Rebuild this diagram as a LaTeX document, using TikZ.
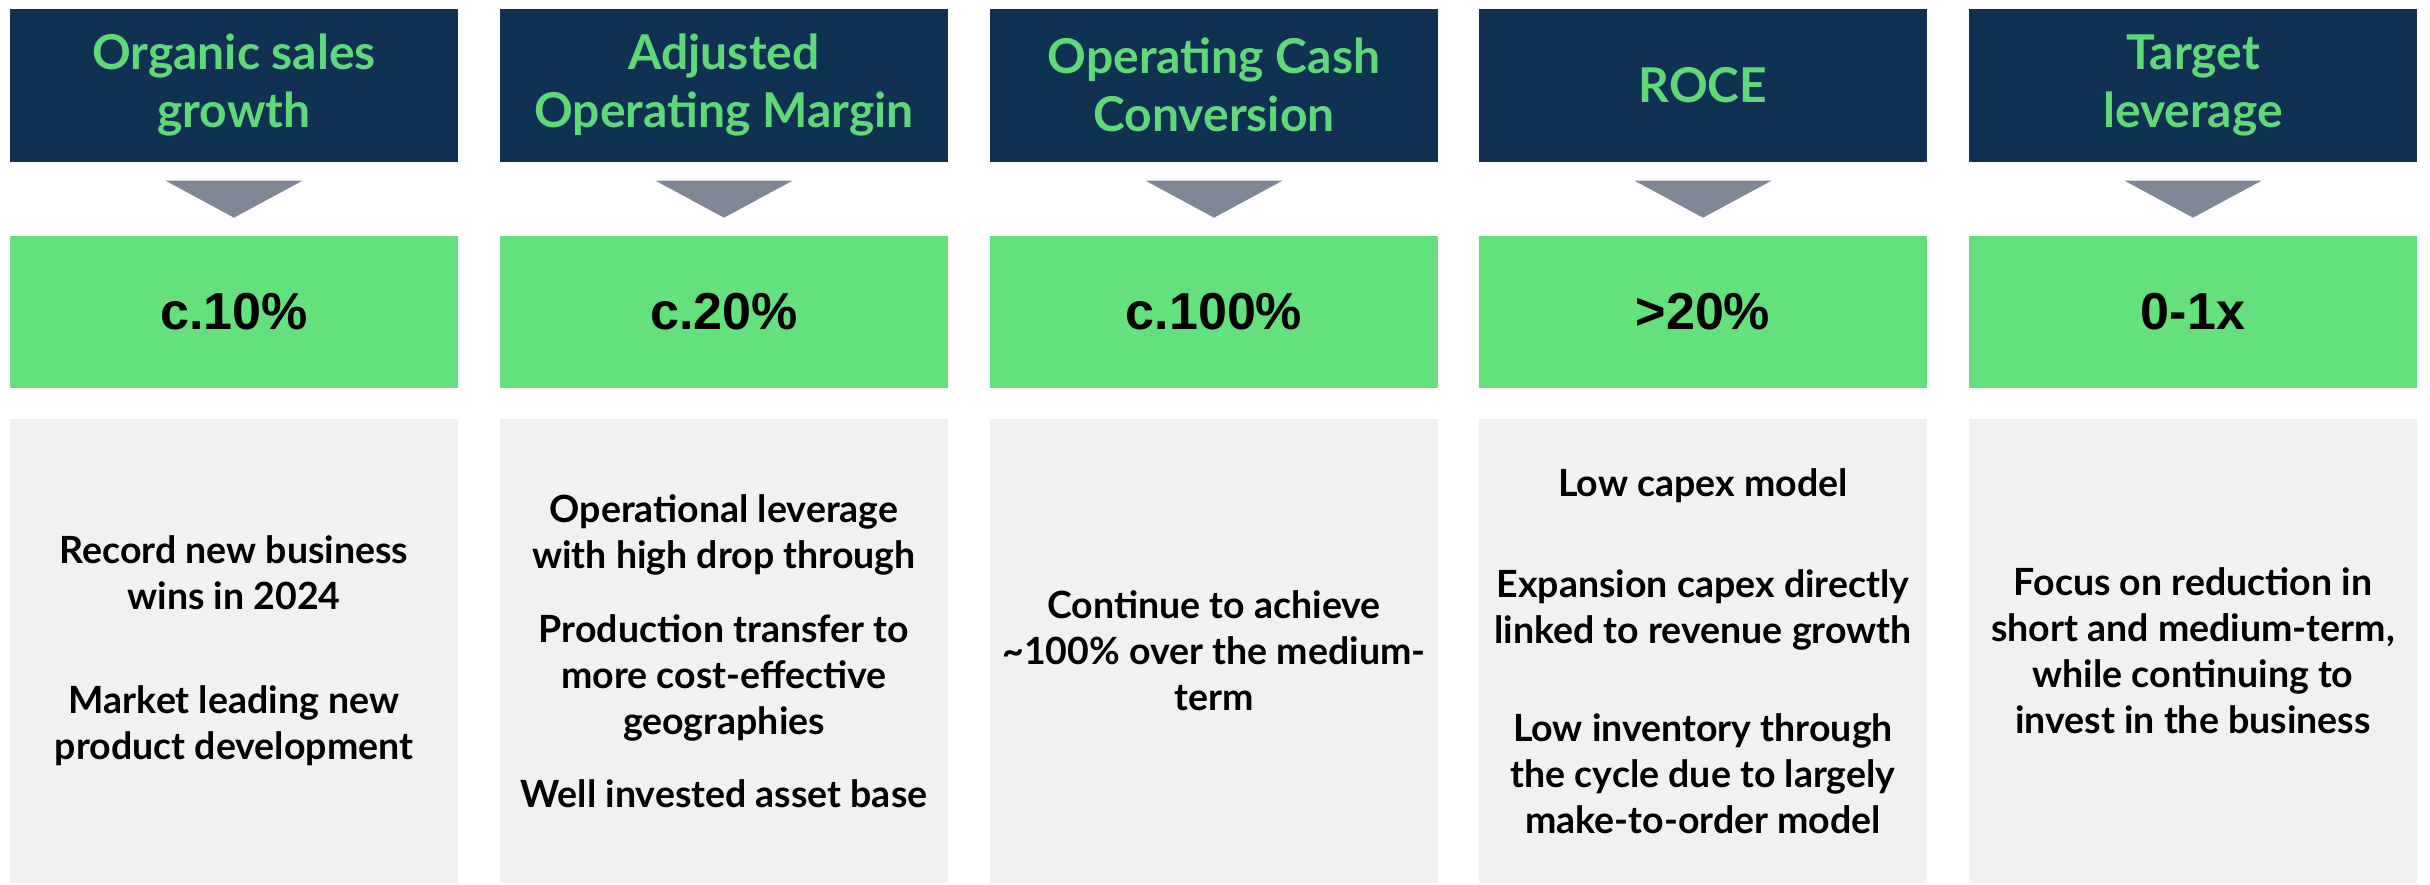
\documentclass[tikz,border=0pt]{standalone}
\usepackage{fontspec}
\usetikzlibrary{calc}
\newfontfamily\headfont{Lato}
\newfontfamily\numfont{Liberation Sans}
\definecolor{navy}{RGB}{16,49,82}
\definecolor{kpigreen}{RGB}{100,224,124}
\definecolor{titlegreen}{RGB}{96,216,122}
\definecolor{arrowgray}{RGB}{128,136,152}
\definecolor{panelgray}{RGB}{241,241,241}
\tikzset{
  headbox/.style={rectangle, fill=navy, minimum width=448pt, minimum height=153pt, inner sep=0pt,
    text=titlegreen, align=center, font=\headfont\bfseries\fontsize{48}{58}\selectfont},
  kpibox/.style={rectangle, fill=kpigreen, minimum width=448pt, minimum height=152pt, inner sep=0pt,
    text=black, font=\numfont\bfseries\fontsize{52}{60}\selectfont},
  panel/.style={rectangle, fill=panelgray, minimum width=448pt, minimum height=464pt, inner sep=0pt,
    text=black, align=center, font=\headfont\bfseries\fontsize{37.5}{46}\selectfont},
  pointer/.style={fill=arrowgray}
}
\begin{document}
\begin{tikzpicture}[x=1pt, y=-1pt]
\useasboundingbox (0,0) rectangle (2430,884);

% column headers
\node[headbox] (h1) at (234,85)  {Organic sales\\growth};
\node[headbox] (h2) at (724,85)  {Adjusted\\Operating Margin};
\node[headbox] (h3) at (1214,85) {Operating Cash\\Conversion};
\node[headbox] (h4) at (1703,85) {ROCE};
\node[headbox] (h5) at (2193,85) {Target\\leverage};

% target values
\node[kpibox] (v1) at (234,312)  {c.10\%};
\node[kpibox] (v2) at (724,312)  {c.20\%};
\node[kpibox] (v3) at (1214,312) {c.100\%};
\node[kpibox] (v4) at (1703,312) {>20\%};
\node[kpibox] (v5) at (2193,312) {0-1x};

% down pointers between header and value
\foreach \i in {1,...,5}{
  \fill[pointer] ($(h\i.south)+(-68.5,19)$) -- ($(h\i.south)+(68.5,19)$) -- ($(h\i.south)+(0,56)$) -- cycle;
}

% supporting detail panels
\node[panel] (d1) at (234,651)  {Record new business\\wins in 2024\\[58pt]Market leading new\\product development};
\node[panel] (d2) at (724,651)  {Operational leverage\\with high drop through\\[28pt]Production transfer to\\more cost-effective\\geographies\\[27pt]Well invested asset base};
\node[panel] (d3) at (1214,651) {Continue to achieve\\\textasciitilde100\% over the medium-\\term};
\node[panel] (d4) at (1703,651) {Low capex model\\[55pt]Expansion capex directly\\linked to revenue growth\\[52pt]Low inventory through\\the cycle due to largely\\make-to-order model};
\node[panel] (d5) at (2193,651) {Focus on reduction in\\short and medium-term,\\while continuing to\\invest in the business};
\end{tikzpicture}
\end{document}
